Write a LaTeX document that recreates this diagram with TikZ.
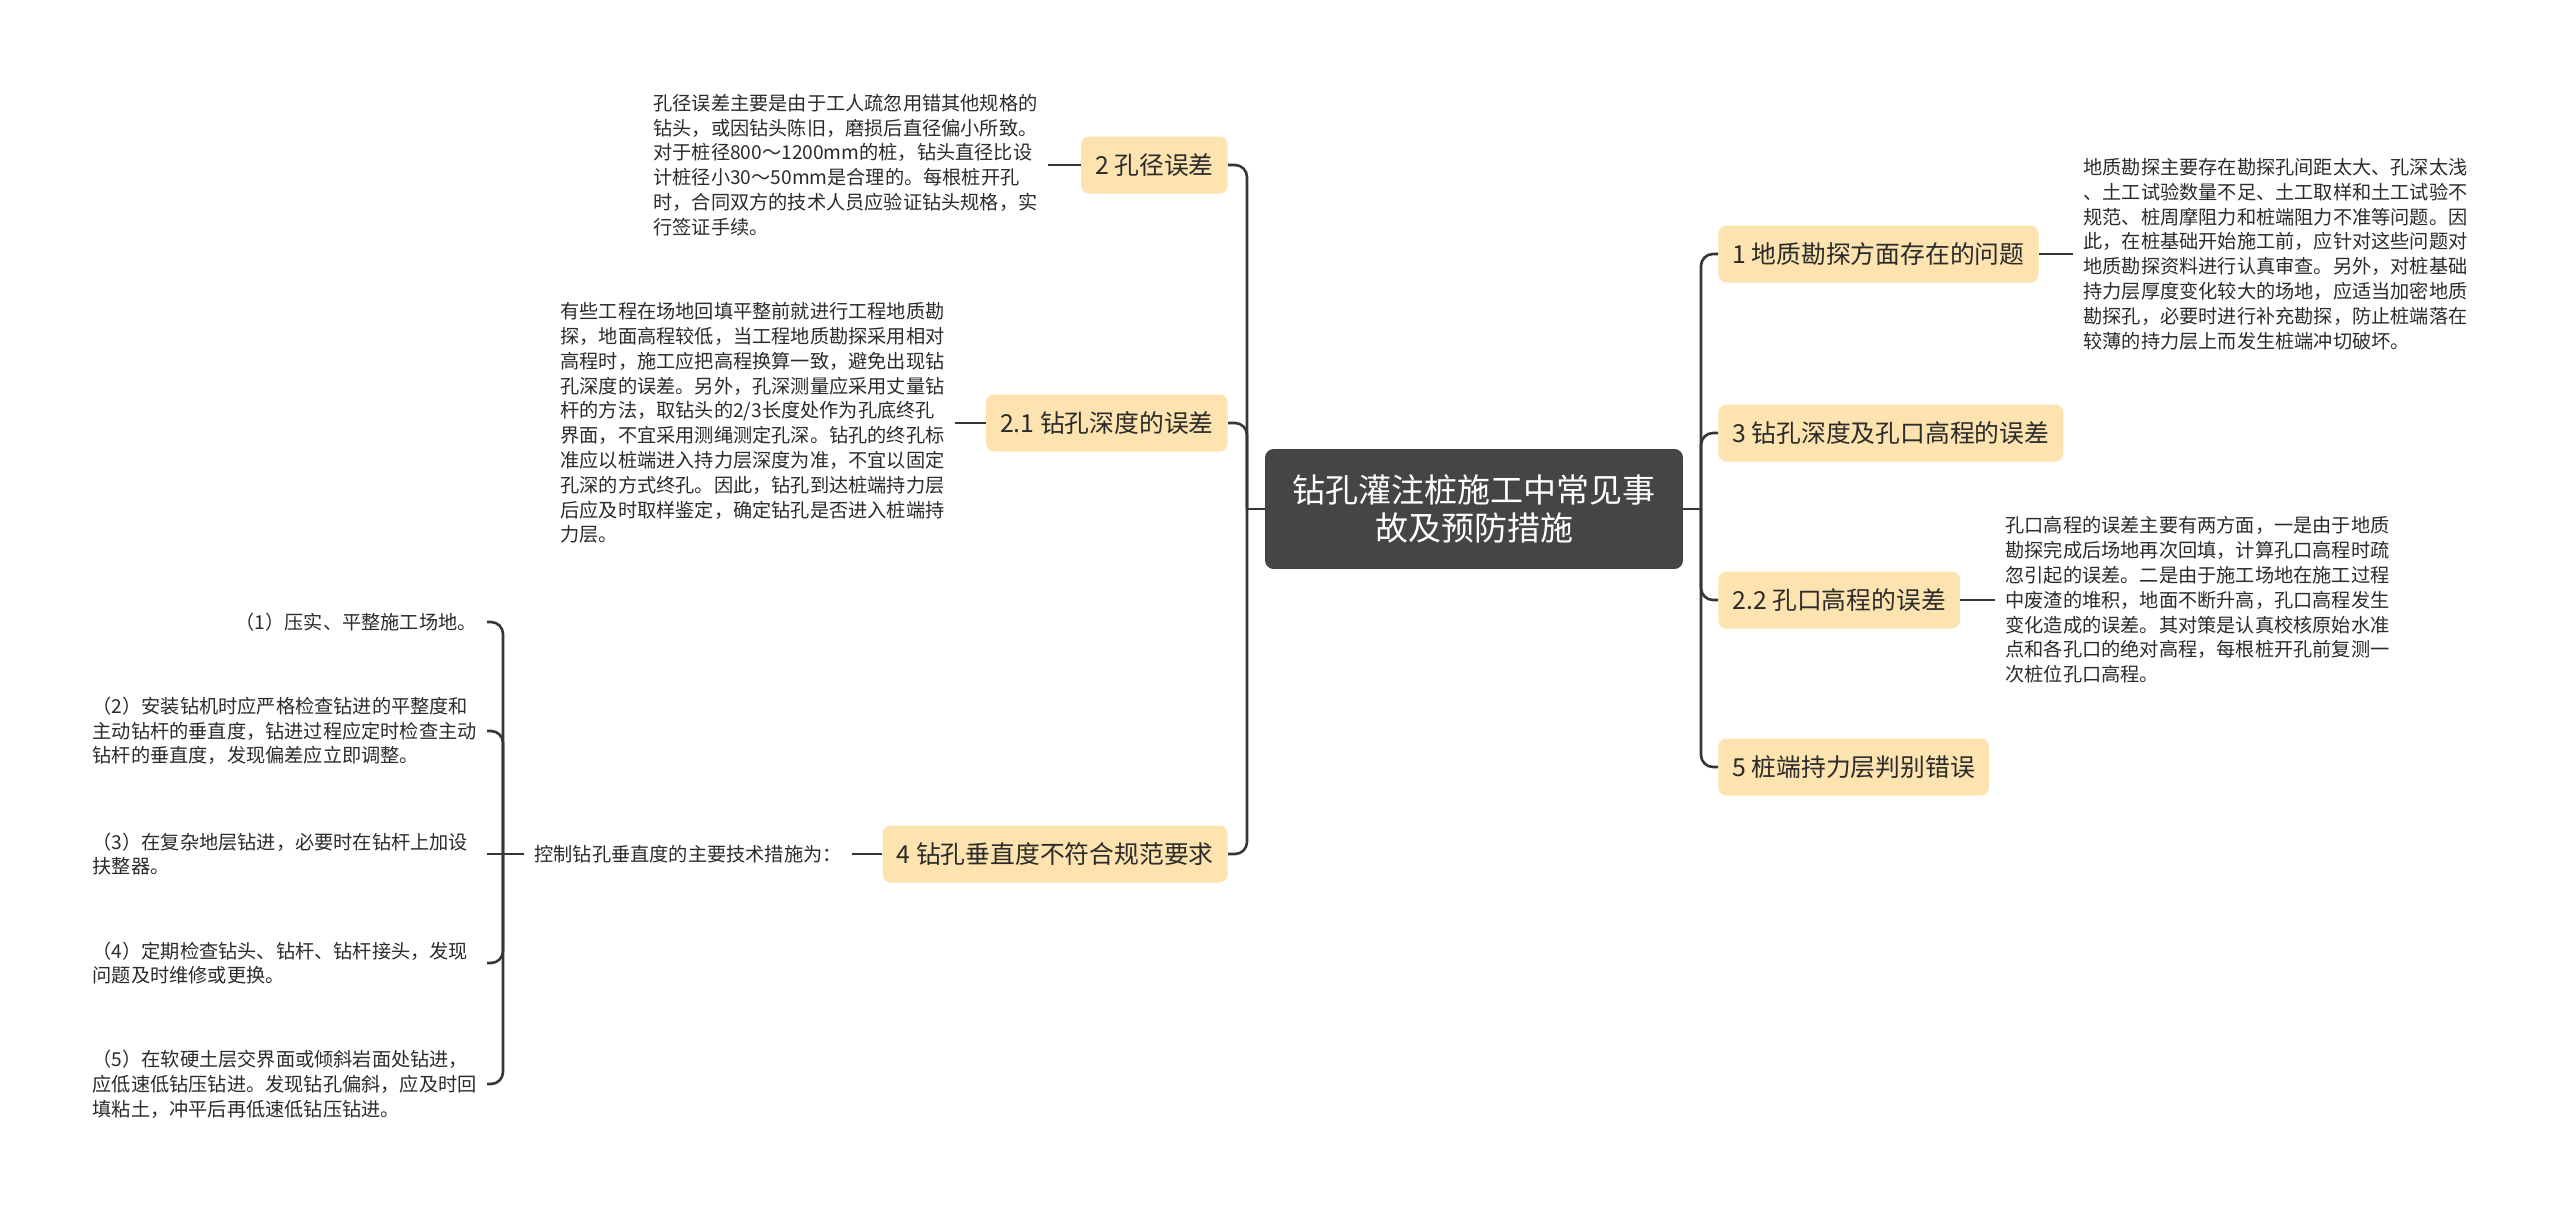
\documentclass[tikz,border=0pt]{standalone}
\usepackage{fontspec}
\setmainfont{Noto Sans CJK SC}
\definecolor{rootgray}{HTML}{454545}
\definecolor{topicfill}{HTML}{FCE3AF}
\definecolor{linegray}{HTML}{363636}
\definecolor{textgray}{HTML}{2B2B2B}

\begin{document}
\begin{tikzpicture}[x=0.5pt, y=-0.5pt,
  rootbox/.style={rectangle, rounded corners=4pt, fill=rootgray, draw=black!75, text=white, align=center,
                  font=\fontsize{16.5}{19}\selectfont, minimum width=208.5pt, minimum height=59.5pt},
  topicbox/.style={rectangle, rounded corners=4pt, fill=topicfill, text=textgray,
                   font=\fontsize{12.4}{14}\selectfont, inner xsep=7pt, minimum height=28.5pt},
  descbox/.style={align=left, text=textgray, font=\fontsize{9.6}{12.4}\selectfont, inner xsep=5pt, inner ysep=0pt},
  itembox/.style={descbox, text width=192pt},
  conn/.style={draw=linegray, line width=1.3pt, rounded corners=6pt}
]
\path[fill=white, use as bounding box] (0,0) rectangle (2560,1215);

\node[rootbox] (root) at (1474,509) {钻孔灌注桩施工中常见事\\故及预防措施};
\coordinate (jl) at (1247,509);
\coordinate (jr) at (1701,509);

\node[topicbox, anchor=east] (n2)  at (1228,165) {2 孔径误差};
\node[topicbox, anchor=east] (n21) at (1228,423) {2.1 钻孔深度的误差};
\node[topicbox, anchor=east] (n4)  at (1228,854) {4 钻孔垂直度不符合规范要求};
\node[topicbox, anchor=west] (n1)  at (1718,254) {1 地质勘探方面存在的问题};
\node[topicbox, anchor=west] (n3)  at (1718,433) {3 钻孔深度及孔口高程的误差};
\node[topicbox, anchor=west] (n22) at (1718,600) {2.2 孔口高程的误差};
\node[topicbox, anchor=west] (n5)  at (1718,767) {5 桩端持力层判别错误};

\node[descbox, anchor=west] (d2) at (643,165) {孔径误差主要是由于工人疏忽用错其他规格的\\钻头，或因钻头陈旧，磨损后直径偏小所致。\\对于桩径800～1200mm的桩，钻头直径比设\\计桩径小30～50mm是合理的。每根桩开孔\\时，合同双方的技术人员应验证钻头规格，实\\行签证手续。};
\node[descbox, anchor=west] (d21) at (550,423) {有些工程在场地回填平整前就进行工程地质勘\\探，地面高程较低，当工程地质勘探采用相对\\高程时，施工应把高程换算一致，避免出现钻\\孔深度的误差。另外，孔深测量应采用丈量钻\\杆的方法，取钻头的2/3长度处作为孔底终孔\\界面，不宜采用测绳测定孔深。钻孔的终孔标\\准应以桩端进入持力层深度为准，不宜以固定\\孔深的方式终孔。因此，钻孔到达桩端持力层\\后应及时取样鉴定，确定钻孔是否进入桩端持\\力层。};
\node[descbox, anchor=west] (ctrl) at (524,854) {控制钻孔垂直度的主要技术措施为：};
\node[descbox, anchor=west] (d1) at (2073,254) {地质勘探主要存在勘探孔间距太大、孔深太浅\\、土工试验数量不足、土工取样和土工试验不\\规范、桩周摩阻力和桩端阻力不准等问题。因\\此，在桩基础开始施工前，应针对这些问题对\\地质勘探资料进行认真审查。另外，对桩基础\\持力层厚度变化较大的场地，应适当加密地质\\勘探孔，必要时进行补充勘探，防止桩端落在\\较薄的持力层上而发生桩端冲切破坏。};
\node[descbox, anchor=west] (d22) at (1995,600) {孔口高程的误差主要有两方面，一是由于地质\\勘探完成后场地再次回填，计算孔口高程时疏\\忽引起的误差。二是由于施工场地在施工过程\\中废渣的堆积，地面不断升高，孔口高程发生\\变化造成的误差。其对策是认真校核原始水准\\点和各孔口的绝对高程，每根桩开孔前复测一\\次桩位孔口高程。};

\coordinate (js) at (503,854);
\node[descbox, anchor=east] (s1) at (487,622)  {（1）压实、平整施工场地。};
\node[itembox, anchor=east] (s2) at (487,731)  {（2）安装钻机时应严格检查钻进的平整度和\\主动钻杆的垂直度，钻进过程应定时检查主动\\钻杆的垂直度，发现偏差应立即调整。};
\node[itembox, anchor=east] (s3) at (487,854)  {（3）在复杂地层钻进，必要时在钻杆上加设\\扶整器。};
\node[itembox, anchor=east] (s4) at (487,963)  {（4）定期检查钻头、钻杆、钻杆接头，发现\\问题及时维修或更换。};
\node[itembox, anchor=east] (s5) at (487,1084) {（5）在软硬土层交界面或倾斜岩面处钻进，\\应低速低钻压钻进。发现钻孔偏斜，应及时回\\填粘土，冲平后再低速低钻压钻进。};

\draw[conn] (root.west) -- (jl);
\draw[conn] (jl) |- (n2.east);
\draw[conn] (jl) |- (n21.east);
\draw[conn] (jl) |- (n4.east);
\draw[conn] (root.east) -- (jr);
\draw[conn] (jr) |- (n1.west);
\draw[conn] (jr) |- (n3.west);
\draw[conn] (jr) |- (n22.west);
\draw[conn] (jr) |- (n5.west);

\draw[conn] (n2.west) -- (d2.east);
\draw[conn] (n21.west) -- (d21.east);
\draw[conn] (n4.west) -- (ctrl.east);
\draw[conn] (n1.east) -- (d1.west);
\draw[conn] (n22.east) -- (d22.west);

\draw[conn] (ctrl.west) -- (js);
\draw[conn] (js) |- (s1.east);
\draw[conn] (js) |- (s2.east);
\draw[conn] (js) -- (s3.east);
\draw[conn] (js) |- (s4.east);
\draw[conn] (js) |- (s5.east);
\end{tikzpicture}
\end{document}
